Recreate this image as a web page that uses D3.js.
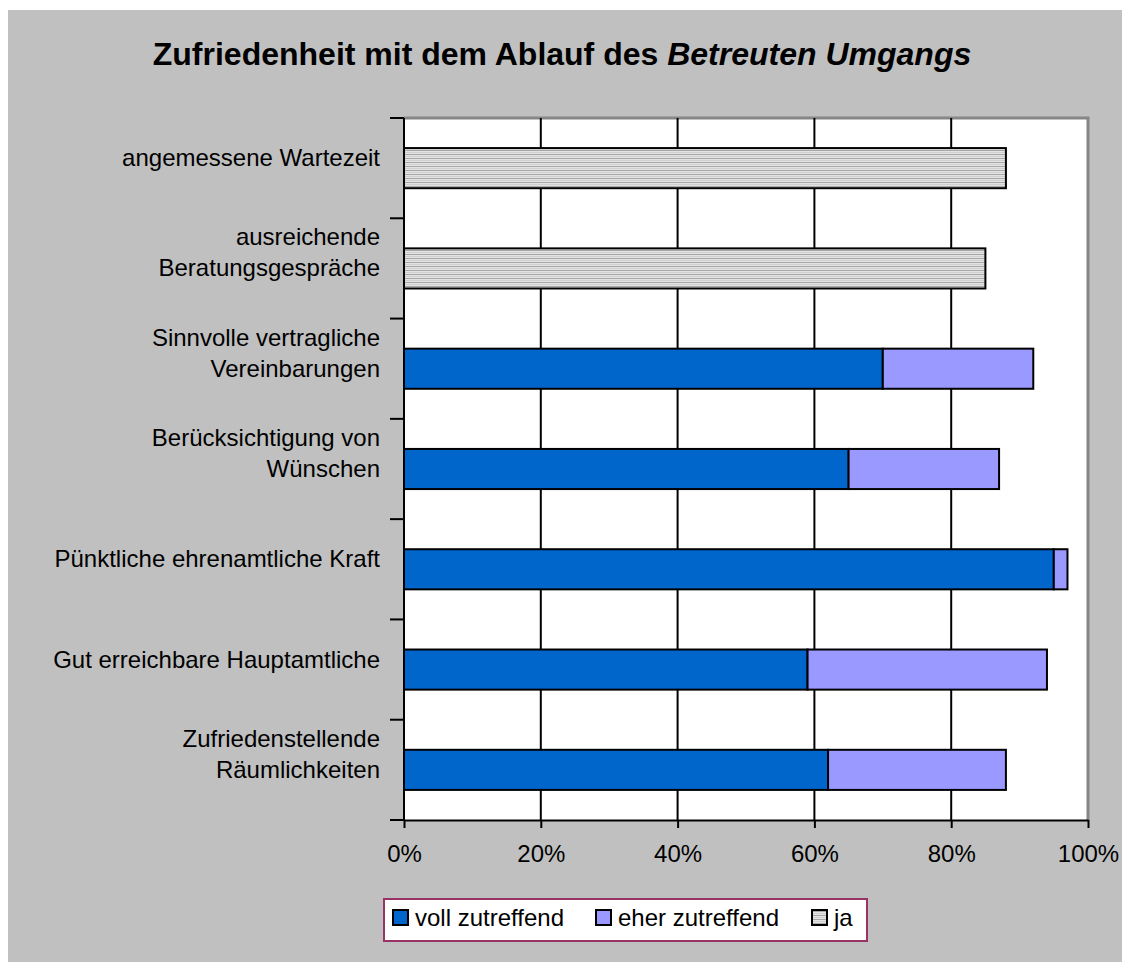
<!DOCTYPE html>
<html>
<head>
<meta charset="utf-8">
<script src="https://cdn.jsdelivr.net/npm/d3@7"></script>
<style>
    body { margin: 0; background: #ffffff; }
    text { font-family: "Liberation Sans", Arial, sans-serif; }
</style>
</head>
<body>
<div id="chart-area"></div>
<script>
/*
*    Zufriedenheit mit dem Ablauf - stacked bar chart
*/

// categories, top to bottom (each entry = label lines)
var categories = [
    ["angemessene Wartezeit"],
    ["ausreichende", "Beratungsgespräche"],
    ["Sinnvolle vertragliche", "Vereinbarungen"],
    ["Berücksichtigung von", "Wünschen"],
    ["Pünktliche ehrenamtliche Kraft"],
    ["Gut erreichbare Hauptamtliche"],
    ["Zufriedenstellende", "Räumlichkeiten"]
];

// series values (percent)
var vollZutreffend = [0, 0, 70, 65, 95, 59, 62];
var eherZutreffend = [0, 0, 22, 22, 2, 35, 26];
var ja = [88, 85, 0, 0, 0, 0, 0];

var seriesNames = ["voll zutreffend", "eher zutreffend", "ja"];
var tickValues = [0, 20, 40, 60, 80, 100];

var colour = { "voll zutreffend": "#0066cc", "eher zutreffend": "#9999ff", "ja": "url(#hatch)" };

// dimensions
var svgWidth = 1122, svgHeight = 962;
var margin = { left: 404, right: 34, top: 118, bottom: 142 };
var width = svgWidth - margin.left - margin.right;
var height = svgHeight - margin.top - margin.bottom;

var svg = d3.select("#chart-area").append("svg")
    .attr("width", svgWidth)
    .attr("height", svgHeight);

// hatch pattern for "ja"
var pattern = svg.append("defs").append("pattern")
    .attr("id", "hatch")
    .attr("patternUnits", "userSpaceOnUse")
    .attr("width", 8)
    .attr("height", 4);
pattern.append("rect").attr("width", 8).attr("height", 4).attr("fill", "#e4e4e4");
pattern.append("rect").attr("y", 0).attr("width", 8).attr("height", 1).attr("fill", "#a6a6a6");
pattern.append("rect").attr("y", 2).attr("width", 8).attr("height", 1).attr("fill", "#cfcfcf");

// chart background
svg.append("rect")
    .attr("x", 8)
    .attr("y", 10)
    .attr("width", svgWidth - 8)
    .attr("height", svgHeight - 10)
    .attr("fill", "#c0c0c0");

// title
var title = svg.append("text")
    .attr("x", 562)
    .attr("y", 65)
    .attr("text-anchor", "middle")
    .attr("font-size", "32px")
    .attr("font-weight", "bold");
title.append("tspan").text("Zufriedenheit mit dem Ablauf des ");
title.append("tspan").attr("font-style", "italic").text("Betreuten Umgangs");

var g = svg.append("g")
    .attr("transform", "translate(" + margin.left + "," + margin.top + ")");

// scales
var x = d3.scaleLinear().domain([0, 100]).range([0, width]);
var y = d3.scaleBand()
    .domain(d3.range(categories.length))
    .range([0, height])
    .paddingInner(0.6)
    .paddingOuter(0.3);

// plot area
g.append("rect")
    .attr("width", width)
    .attr("height", height)
    .attr("fill", "#ffffff");

// top + right border (gray)
g.append("path")
    .attr("d", "M0,0H" + width + "V" + height)
    .attr("fill", "none")
    .attr("stroke", "#868686")
    .attr("stroke-width", 3);

// gridlines
g.selectAll(".grid")
    .data(tickValues.slice(1, -1))
    .enter().append("line")
    .attr("x1", function(d) { return x(d); })
    .attr("x2", function(d) { return x(d); })
    .attr("y1", 0)
    .attr("y2", height)
    .attr("stroke", "#000")
    .attr("stroke-width", 2);

// stacked data
var stackData = categories.map(function(c, i) {
    return { i: i, "voll zutreffend": vollZutreffend[i], "eher zutreffend": eherZutreffend[i], "ja": ja[i] };
});
var stack = d3.stack().keys(seriesNames);
var layers = stack(stackData);

layers.forEach(function(layer) {
    g.selectAll(".bar-" + layer.index)
        .data(layer.filter(function(d) { return d[1] > d[0]; }))
        .enter().append("rect")
        .attr("x", function(d) { return x(d[0]); })
        .attr("y", function(d) { return y(d.data.i); })
        .attr("width", function(d) { return x(d[1]) - x(d[0]); })
        .attr("height", y.bandwidth())
        .attr("fill", colour[layer.key])
        .attr("stroke", "#000")
        .attr("stroke-width", 2);
});

// x axis
var xAxis = d3.axisBottom(x)
    .tickValues(tickValues)
    .tickFormat(function(d) { return d + "%"; })
    .tickSize(8)
    .tickSizeOuter(0);
var xg = g.append("g")
    .attr("transform", "translate(0," + height + ")")
    .call(xAxis);
xg.select(".domain").attr("stroke", "#000").attr("stroke-width", 2);
xg.selectAll(".tick line").attr("stroke", "#000").attr("stroke-width", 2);
xg.selectAll(".tick text")
    .attr("font-size", "24px")
    .attr("font-family", "'Liberation Sans', Arial, sans-serif")
    .attr("fill", "#000")
    .attr("dy", null)
    .attr("y", 42);

// y axis line + boundary ticks
g.append("line")
    .attr("x1", 0).attr("x2", 0)
    .attr("y1", 0).attr("y2", height)
    .attr("stroke", "#000")
    .attr("stroke-width", 2);
g.selectAll(".ytick")
    .data(d3.range(categories.length + 1))
    .enter().append("line")
    .attr("x1", -14).attr("x2", 0)
    .attr("y1", function(d) { return d * y.step(); })
    .attr("y2", function(d) { return d * y.step(); })
    .attr("stroke", "#000")
    .attr("stroke-width", 2);

// category labels
g.selectAll(".cat")
    .data(categories)
    .enter().append("text")
    .attr("text-anchor", "end")
    .attr("font-size", "24px")
    .attr("fill", "#000")
    .each(function(lines, i) {
        var center = y(i) + y.bandwidth() / 2;
        var first = lines.length === 1 ? center - 10 : center - 31;
        d3.select(this).selectAll("tspan")
            .data(lines)
            .enter().append("tspan")
            .attr("x", -24)
            .attr("y", function(d, j) { return first + j * 31 + 8; })
            .text(function(d) { return d; });
    });

// legend
var legend = svg.append("g").attr("transform", "translate(384,899)");
legend.append("rect")
    .attr("width", 483)
    .attr("height", 42)
    .attr("fill", "#ffffff")
    .attr("stroke", "#993366")
    .attr("stroke-width", 2);

var legendX = [9, 212, 428];
var items = legend.selectAll(".item")
    .data(seriesNames)
    .enter().append("g")
    .attr("transform", function(d, i) { return "translate(" + legendX[i] + ",0)"; });
items.append("rect")
    .attr("x", 0).attr("y", 11)
    .attr("width", 15).attr("height", 15)
    .attr("fill", function(d) { return colour[d]; })
    .attr("stroke", "#000")
    .attr("stroke-width", 2);
items.append("text")
    .attr("x", 22)
    .attr("y", 27)
    .attr("font-size", "24px")
    .attr("fill", "#000")
    .text(function(d) { return d; });
</script>
</body>
</html>
